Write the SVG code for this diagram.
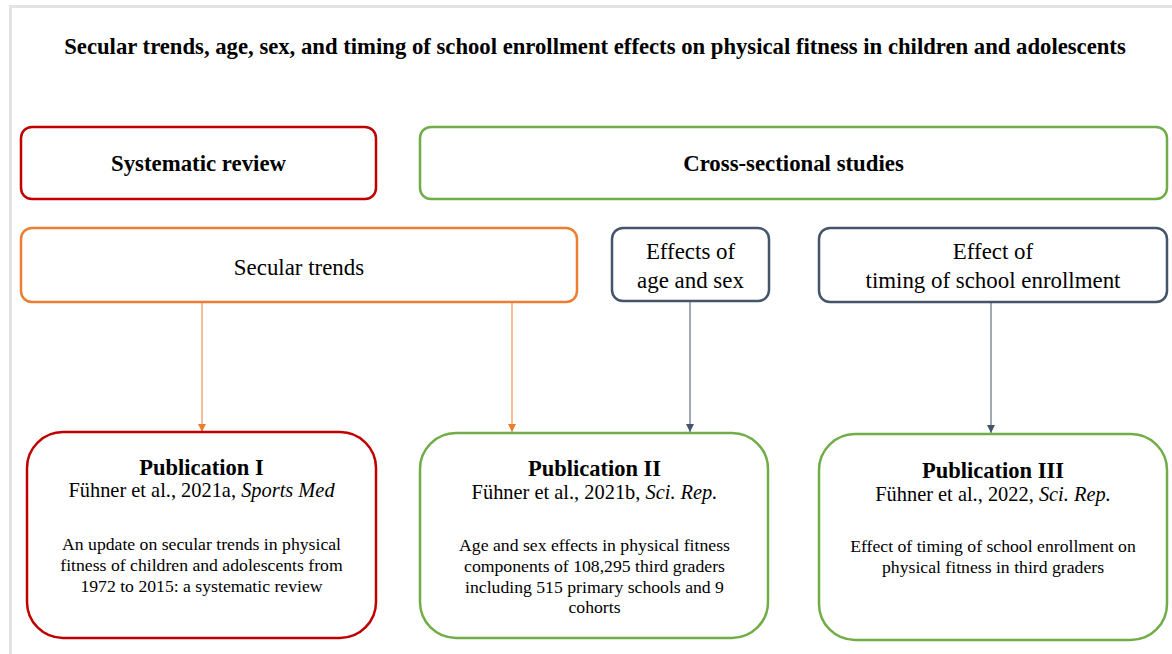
<svg xmlns="http://www.w3.org/2000/svg" width="1172" height="654" viewBox="0 0 1172 654">
<style>
text{font-family:"Liberation Serif","Times New Roman",serif;fill:#000;text-anchor:middle}
.t{font-size:22.7px;font-weight:bold}
.h{font-size:22.8px;font-weight:bold}
.p{font-size:22.5px;font-weight:bold}
.s{font-size:22.9px}
.c{font-size:20.4px}
.b{font-size:17.7px}
.box{fill:#fff;stroke-width:2.5}
.red{stroke:#c00000}
.green{stroke:#70ad47}
.orange{stroke:#ed7d31}
.slate{stroke:#44546a}
.lo{stroke:#ed7d31;stroke-width:1;fill:none}
.ls{stroke:#44546a;stroke-width:1;fill:none}
</style>
<defs>
<marker id="ao" viewBox="0 0 8 8" refX="8" refY="4" markerWidth="8" markerHeight="8" markerUnits="userSpaceOnUse" orient="auto"><path d="M0,0 L8,4 L0,8 Z" fill="#ed7d31"/></marker>
<marker id="as" viewBox="0 0 8 8" refX="8" refY="4" markerWidth="8" markerHeight="8" markerUnits="userSpaceOnUse" orient="auto"><path d="M0,0 L8,4 L0,8 Z" fill="#44546a"/></marker>
</defs>
<rect width="1172" height="654" fill="#fff"/>
<path d="M10.5,654 V6.5 H1172" fill="none" stroke="#e3e3e3" stroke-width="3"/>
<text class="t" x="595" y="54">Secular trends, age, sex, and timing of school enrollment effects on physical fitness in children and adolescents</text>

<g id="systematic-review">
<rect class="box red" x="21" y="127" width="355" height="72" rx="11"/>
<text class="h" x="198.5" y="171">Systematic review</text>
</g>
<g id="cross-sectional">
<rect class="box green" x="420" y="127" width="747" height="72" rx="11"/>
<text class="h" x="793.5" y="171">Cross-sectional studies</text>
</g>
<g id="secular-trends">
<rect class="box orange" x="21" y="228" width="556" height="74" rx="11"/>
<text class="s" x="299" y="275">Secular trends</text>
</g>
<g id="age-sex">
<rect class="box slate" x="612" y="228" width="157" height="73" rx="11"/>
<text class="s" x="690.5" y="259">Effects of</text>
<text class="s" x="690.5" y="288">age and sex</text>
</g>
<g id="timing">
<rect class="box slate" x="819" y="228" width="348" height="74" rx="11"/>
<text class="s" x="993" y="259">Effect of</text>
<text class="s" x="993" y="288">timing of school enrollment</text>
</g>

<g id="connectors">
<line class="lo" x1="202" y1="302" x2="202" y2="432" marker-end="url(#ao)"/>
<line class="lo" x1="512" y1="302" x2="512" y2="432" marker-end="url(#ao)"/>
<line class="ls" x1="690" y1="301" x2="690" y2="432" marker-end="url(#as)"/>
<line class="ls" x1="991" y1="302" x2="991" y2="433" marker-end="url(#as)"/>
</g>

<g id="publication-1">
<rect class="box red" x="27" y="432" width="349" height="206" rx="36" stroke-width="3"/>
<text class="p" x="201.5" y="475">Publication I</text>
<text class="c" x="201.5" y="497">Fühner et al., 2021a, <tspan font-style="italic">Sports Med</tspan></text>
<text class="b" x="201.5" y="550">An update on secular trends in physical</text>
<text class="b" x="201.5" y="571">fitness of children and adolescents from</text>
<text class="b" x="201.5" y="592">1972 to 2015: a systematic review</text>
</g>
<g id="publication-2">
<rect class="box green" x="420" y="433" width="348" height="205" rx="36" stroke-width="3"/>
<text class="p" x="594.5" y="476">Publication II</text>
<text class="c" x="594.5" y="499">Fühner et al., 2021b, <tspan font-style="italic">Sci. Rep.</tspan></text>
<text class="b" x="594.5" y="551">Age and sex effects in physical fitness</text>
<text class="b" x="594.5" y="572">components of 108,295 third graders</text>
<text class="b" x="594.5" y="593">including 515 primary schools and 9</text>
<text class="b" x="594.5" y="613">cohorts</text>
</g>
<g id="publication-3">
<rect class="box green" x="819" y="434" width="348" height="206" rx="36" stroke-width="3"/>
<text class="p" x="993" y="478">Publication III</text>
<text class="c" x="993" y="501">Fühner et al., 2022, <tspan font-style="italic">Sci. Rep.</tspan></text>
<text class="b" x="993" y="552">Effect of timing of school enrollment on</text>
<text class="b" x="993" y="573">physical fitness in third graders</text>
</g>
</svg>
